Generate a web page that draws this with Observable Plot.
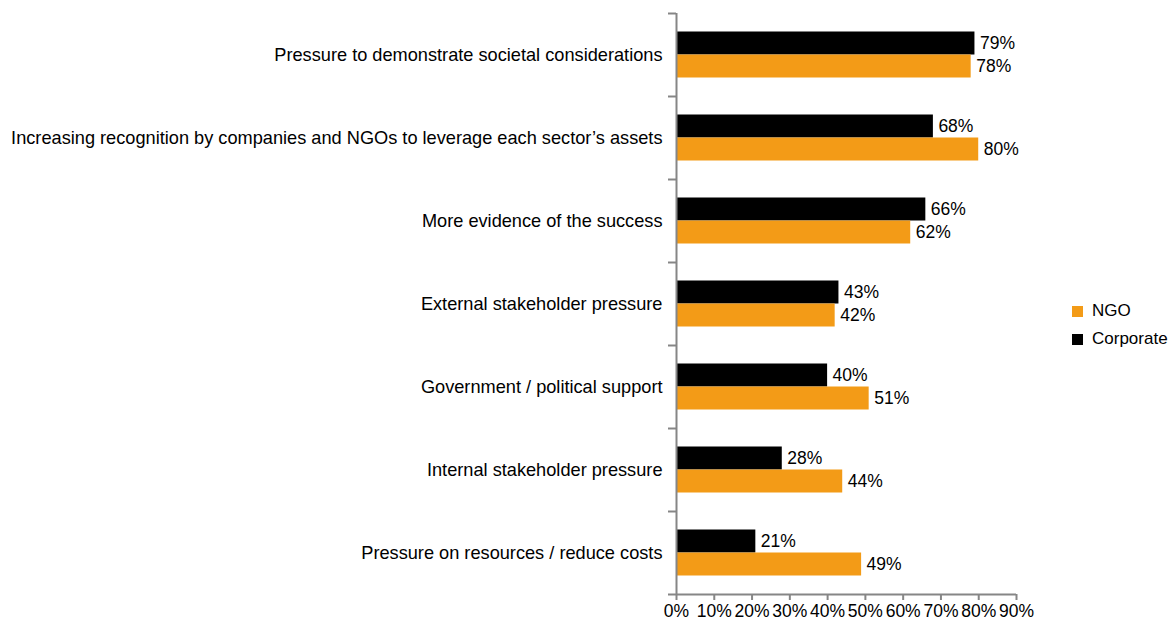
<!DOCTYPE html>
<html>
<head>
<meta charset="utf-8">
<script src="https://cdn.jsdelivr.net/npm/d3@7"></script>
<script src="https://cdn.jsdelivr.net/npm/@observablehq/plot@0.6"></script>
<style>
  html, body { margin: 0; padding: 0; background: #fff; }
  #wrap { position: relative; width: 1173px; height: 628px; font-family: "Liberation Sans", Arial, sans-serif; }
  #legend { position: absolute; left: 1072px; top: 297px; font-size: 17px; color: #000; line-height: 28px; }
  #legend .row { display: flex; align-items: center; height: 28px; }
  #legend .sw { width: 11px; height: 11px; margin-right: 9px; }
</style>
</head>
<body>
<div id="wrap"><div id="legend"></div></div>
<script>
const categories = [
  "Pressure to demonstrate societal considerations",
  "Increasing recognition by companies and NGOs to leverage each sector’s assets",
  "More evidence of the success",
  "External stakeholder pressure",
  "Government / political support",
  "Internal stakeholder pressure",
  "Pressure on resources / reduce costs"
];
const corporateValues = [79, 68, 66, 43, 40, 28, 21];
const ngoValues = [78, 80, 62, 42, 51, 44, 49];
const xTicks = [0, 10, 20, 30, 40, 50, 60, 70, 80, 90];
const seriesNames = ["NGO", "Corporate"];
const seriesColors = ["#F39B17", "#000000"];

const corp = categories.map((c, i) => ({cat: c, value: corporateValues[i]}));
const ngo = categories.map((c, i) => ({cat: c, value: ngoValues[i]}));

const W = 1173, H = 628, mT = 13, mB = 34;
const band = (H - mT - mB) / categories.length;
const barH = 23;
const inset = (band - 2 * barH) / 2;
const axisColor = "#868686";

const chart = Plot.plot({
  width: W,
  height: H,
  marginLeft: 676,
  marginRight: 157,
  marginTop: mT,
  marginBottom: mB,
  style: {fontFamily: "'Liberation Sans', Arial, sans-serif", fontSize: "17.5px", color: "#000", background: "#fff"},
  x: {domain: [0, 90]},
  y: {domain: categories, padding: 0},
  marks: [
    Plot.barX(corp, {x: "value", y: "cat", fill: seriesColors[1], insetTop: inset, insetBottom: inset + barH}),
    Plot.barX(ngo, {x: "value", y: "cat", fill: seriesColors[0], insetTop: inset + barH, insetBottom: inset}),
    Plot.text(corp, {x: "value", y: "cat", text: d => d.value + "%", textAnchor: "start", dx: 5, dy: -barH / 2, fontSize: 17.5, fill: "#000"}),
    Plot.text(ngo, {x: "value", y: "cat", text: d => d.value + "%", textAnchor: "start", dx: 5, dy: barH / 2, fontSize: 17.5, fill: "#000"}),
    Plot.ruleY(categories, {y: d => d, x1: 0, x2: 0, insetLeft: -8, dy: -band / 2, stroke: axisColor, strokeWidth: 2}),
    Plot.ruleY(categories.slice(-1), {y: d => d, x1: 0, x2: 90, insetLeft: -8, dy: band / 2, stroke: axisColor, strokeWidth: 2}),
    Plot.ruleX([0], {stroke: axisColor, strokeWidth: 2}),
    Plot.axisX({ticks: xTicks, tickFormat: d => d + "%", tickSize: 6, tickPadding: 4, stroke: axisColor, strokeWidth: 2, fontSize: 17.5, fill: "#000", label: null}),
    Plot.axisY({tickSize: 0, tickPadding: 14, fontSize: 18.2, fill: "#000", label: null})
  ]
});
const wrap = document.getElementById("wrap");
wrap.insertBefore(chart, wrap.firstChild);

const legend = document.getElementById("legend");
seriesNames.forEach((n, i) => {
  const row = document.createElement("div");
  row.className = "row";
  const sw = document.createElement("span");
  sw.className = "sw";
  sw.style.background = seriesColors[i];
  const t = document.createElement("span");
  t.textContent = n;
  row.appendChild(sw); row.appendChild(t);
  legend.appendChild(row);
});
</script>
</body>
</html>
